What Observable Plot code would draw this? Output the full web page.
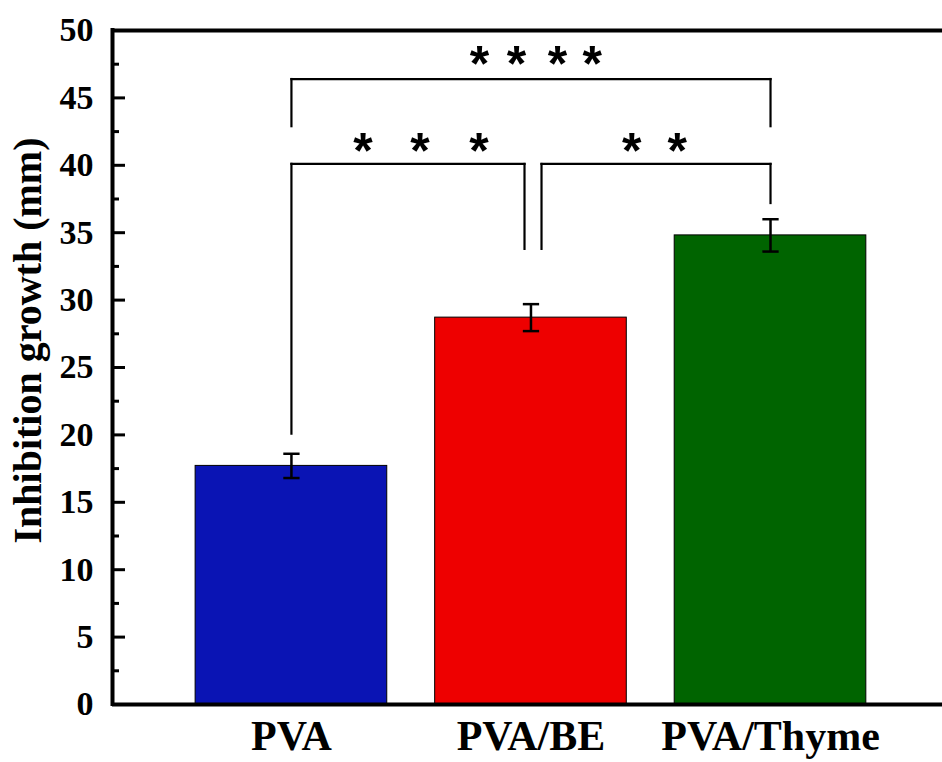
<!DOCTYPE html>
<html>
<head>
<meta charset="utf-8">
<script src="https://cdn.jsdelivr.net/npm/d3@7"></script>
<script src="https://cdn.jsdelivr.net/npm/@observablehq/plot@0.6"></script>
<style>
  html, body { margin: 0; padding: 0; background: #fff; overflow: hidden; }
  #chart { width: 942px; height: 762px; overflow: hidden; }
</style>
</head>
<body>
<div id="chart"></div>
<script>
// ---- data ----
const categories = ["PVA", "PVA/BE", "PVA/Thyme"];
const values = [17.7, 28.7, 34.8];
const errors = [0.9, 1.0, 1.2];
const barColors = ["#0a14b4", "#ee0000", "#006400"];
const yTicks = [0, 5, 10, 15, 20, 25, 30, 35, 40, 45, 50];
const yMinorTicks = [2.5, 7.5, 12.5, 17.5, 22.5, 27.5, 32.5, 37.5, 42.5, 47.5];
const yLabel = "Inhibition growth (mm)";

// significance brackets (indices into categories, values in mm)
const bracketFrom = [0, 1, 0];
const bracketTo = [1, 2, 2];
const bracketLevel = [40.1, 40.1, 46.4];
const bracketLeftEnd = [20.1, 33.8, 42.9];
const bracketRightEnd = [33.8, 37.2, 42.9];

// asterisks (x in category index units, y in mm)
const starX = [0.299, 0.537, 0.783, 1.421, 1.611, 0.785, 0.940, 1.111, 1.256];
const starY = [41.6, 41.6, 41.6, 41.6, 41.6, 48.0, 48.0, 48.0, 48.0];

// ---- build tables ----
const bars = categories.map((c, i) => ({i, c, v: values[i], e: errors[i], color: barColors[i]}));
const halfBar = 0.4, capHalf = 0.034;
const shiftStart = 0.044, shiftEnd = -0.027;
const segs = [];
bracketFrom.forEach((a, k) => {
  const b = bracketTo[k], lv = bracketLevel[k];
  const sharedLeft = bracketTo.some((t, j) => j !== k && t === a && bracketLevel[j] === lv);
  const sharedRight = bracketFrom.some((f, j) => j !== k && f === b && bracketLevel[j] === lv);
  const xl = a + (sharedLeft ? shiftStart : 0);
  const xr = b + (sharedRight ? shiftEnd : 0);
  segs.push({x1: xl, x2: xl, y1: bracketLeftEnd[k], y2: lv});
  segs.push({x1: xl, x2: xr, y1: lv, y2: lv});
  segs.push({x1: xr, x2: xr, y1: lv, y2: bracketRightEnd[k]});
});
const stars = starX.map((x, i) => ({x, y: starY[i]}));
const caps = bars.flatMap(d => [d.v - d.e, d.v + d.e].map(y => ({x1: d.i - capHalf, x2: d.i + capHalf, y})));

const xDomain = [-0.747, 2.718];
const serif = "'Liberation Serif', 'Times New Roman', serif";

const chart = Plot.plot({
  width: 942,
  height: 762,
  marginLeft: 112,
  marginRight: 0,
  marginTop: 30,
  marginBottom: 58,
  style: {background: "#fff", fontFamily: serif, color: "#000"},
  x: {domain: xDomain},
  y: {domain: [0, 50]},
  color: {type: "identity"},
  marks: [
    Plot.rectY(bars, {x1: d => d.i - halfBar, x2: d => d.i + halfBar, y1: 0, y2: "v", fill: "color", stroke: "#000", strokeWidth: 1}),
    Plot.ruleX(bars, {x: "i", y1: d => d.v - d.e, y2: d => d.v + d.e, stroke: "#000", strokeWidth: 2.5}),
    Plot.link(caps, {x1: "x1", x2: "x2", y1: "y", y2: "y", stroke: "#000", strokeWidth: 2.5}),
    Plot.link(segs, {x1: "x1", x2: "x2", y1: "y1", y2: "y2", stroke: "#000", strokeWidth: 2.2, strokeLinecap: "square"}),
    Plot.text(stars, {x: "x", y: "y", text: () => "*", fontFamily: "'Liberation Sans', Arial, sans-serif", fontWeight: "bold", fontSize: 50, dy: 8, fill: "#000"}),
    Plot.ruleY([0, 50], {stroke: "#000", strokeWidth: 4}),
    Plot.ruleX([xDomain[0]], {stroke: "#000", strokeWidth: 4, strokeLinecap: "square"}),
    Plot.axisY(yTicks, {anchor: "left", tickSize: -13, strokeWidth: 3, tickFormat: () => "", label: null}),
    Plot.axisY(yMinorTicks, {anchor: "left", tickSize: -7, strokeWidth: 3, tickFormat: () => "", label: null}),
    Plot.axisY(yTicks, {anchor: "left", tickSize: 0, tickPadding: 19, fontSize: 34, fontWeight: "bold", fontFamily: serif, label: null}),
    Plot.axisX([0, 1, 2], {tickSize: 0, tickPadding: 16, tickFormat: i => categories[i], fontSize: 42, fontWeight: "bold", fontFamily: serif, label: null}),
    Plot.text([yLabel], {text: d => d, frameAnchor: "left", textAnchor: "middle", y: 27, dx: -84, rotate: -90, fontSize: 40, fontWeight: "bold", fontFamily: serif, fill: "#000"})
  ]
});
document.getElementById("chart").appendChild(chart);
</script>
</body>
</html>
